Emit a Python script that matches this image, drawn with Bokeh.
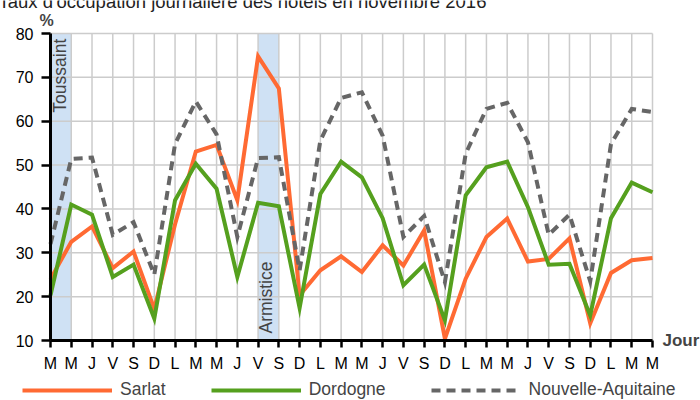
import math
from bokeh.plotting import figure
from bokeh.models import Range1d, FixedTicker, Label, Legend, LegendItem
from bokeh.embed import file_html
from bokeh.resources import INLINE

# ---- data ----
day_labels = ["M", "M", "J", "V", "S", "D", "L", "M", "M", "J", "V", "S", "D", "L", "M",
              "M", "J", "V", "S", "D", "L", "M", "M", "J", "V", "S", "D", "L", "M", "M"]
sarlat = [24, 32.5, 36, 26.5, 30.3, 17.2, 36.5, 53.1, 54.6, 42, 74.8, 67.5, 20.3, 26, 29.2,
          25.6, 31.7, 27.1, 35.1, 10.4, 24.1, 33.6, 37.8, 28, 28.6, 33.3, 13.9, 25.4, 28.3, 28.8]
dordogne = [20.3, 41, 38.7, 24.5, 27.3, 15, 42, 50.3, 44.6, 24.5, 41.4, 40.6, 17.4, 43.4, 50.8,
            47.2, 37.9, 22.6, 27.3, 14.6, 43.1, 49.5, 50.8, 40.4, 27.3, 27.5, 15.7, 37.9, 46, 43.8]
nouvelle_aquitaine = [32, 51.4, 51.7, 34.1, 37, 25, 54.8, 64.5, 57, 33.6, 51.6, 51.8, 26, 55.6, 65.3,
                      66.6, 56.7, 33.6, 38.4, 23.3, 52.6, 62.8, 64.2, 55.2, 34.1, 38.7, 23.5, 54.8, 62.8, 62.1]
y_ticks = [10, 20, 30, 40, 50, 60, 70, 80]
holiday_names = ["Toussaint", "Armistice"]
holiday_start = [0, 10]
holiday_end = [1, 11]

title_text = "Taux d'occupation journalière des hôtels en novembre 2016"

FONT = "Liberation Sans"
ORANGE = "#ff6a33"
GREEN = "#55a01e"
GRAY = "#666666"
BAND = "#cfe1f4"
GRID = "#cccccc"

days = list(range(len(day_labels)))
x_min, x_max = days[0], days[-1]
y_min, y_max = y_ticks[0], y_ticks[-1]

# layout in pixels (the frame covers the whole canvas; axes sit at fixed places)
W, H = 700, 400
LEFT, RIGHT, TOP, BOTTOM = 50, 652, 33, 340
px_x = (RIGHT - LEFT) / (x_max - x_min)
px_y = (BOTTOM - TOP) / (y_max - y_min)
xr = Range1d(x_min - LEFT / px_x, x_max + (W - RIGHT) / px_x)
yr = Range1d(y_min - (H - BOTTOM) / px_y, y_max + TOP / px_y)

p = figure(width=W, height=H, x_range=xr, y_range=yr,
           output_backend="svg", toolbar_location=None,
           min_border_left=0, min_border_right=0, min_border_top=0, min_border_bottom=0)
p.outline_line_color = None
p.background_fill_color = "white"
p.border_fill_color = "white"
p.xgrid.visible = False
p.ygrid.visible = False

# holiday bands
p.quad(left=holiday_start, right=holiday_end, bottom=y_min, top=y_max,
       fill_color=BAND, line_color=None)

# grid lines (limited to the plot area)
p.segment(x0=days, y0=[y_min] * len(days), x1=days, y1=[y_max] * len(days),
          line_color=GRID, line_width=1.5)
p.segment(x0=[x_min] * len(y_ticks), y0=y_ticks, x1=[x_max] * len(y_ticks), y1=y_ticks,
          line_color=GRID, line_width=1.5)

# lines
r_s = p.line(days, sarlat, line_color=ORANGE, line_width=4, line_join="miter")
r_d = p.line(days, dordogne, line_color=GREEN, line_width=4, line_join="miter")
r_n = p.line(days, nouvelle_aquitaine, line_color=GRAY, line_width=4, line_dash="9 6",
             line_join="miter")

# axes
xa = p.xaxis[0]
ya = p.yaxis[0]
xa.fixed_location = y_min
ya.fixed_location = x_min
xa.bounds = (x_min, x_max)
ya.bounds = (y_min, y_max)
xa.ticker = FixedTicker(ticks=days)
xa.major_label_overrides = {i: lab for i, lab in zip(days, day_labels)}
ya.ticker = FixedTicker(ticks=y_ticks)
for ax in (xa, ya):
    ax.axis_line_color = "black"
    ax.axis_line_width = 3
    ax.major_tick_line_color = "black"
    ax.major_tick_line_width = 2.5
    ax.major_tick_in = 0
    ax.minor_tick_line_color = None
    ax.major_label_text_font = FONT
    ax.major_label_text_font_size = "16px"
    ax.major_label_text_color = "black"
xa.major_tick_out = 7
xa.major_label_standoff = 7
ya.major_tick_out = 9
ya.major_label_standoff = 8

# texts
p.add_layout(Label(x=xr.start - 2 / px_x, y=yr.end - 1 / px_y, text=title_text,
                   text_font=FONT, text_font_size="18.5px", text_color="#222222",
                   text_align="left", text_baseline="alphabetic"))
p.add_layout(Label(x=-0.19, y=82.9, text="%", text_font=FONT, text_font_size="16px",
                   text_font_style="bold", text_align="center", text_baseline="alphabetic"))
p.add_layout(Label(x=29.48, y=y_min, text="Jour", text_font=FONT, text_font_size="17px",
                   text_font_style="bold", text_align="left", text_baseline="middle"))
p.add_layout(Label(x=0.48, y=78.8, text=holiday_names[0], angle=math.pi / 2,
                   text_font=FONT, text_font_size="17.5px", text_align="right",
                   text_baseline="alphabetic"))
p.add_layout(Label(x=10.40, y=11.6, text=holiday_names[1], angle=math.pi / 2,
                   text_font=FONT, text_font_size="17.5px", text_align="left",
                   text_baseline="alphabetic"))

legend = Legend(items=[LegendItem(label="Sarlat", renderers=[r_s]),
                       LegendItem(label="Dordogne", renderers=[r_d]),
                       LegendItem(label="Nouvelle-Aquitaine", renderers=[r_n])],
                orientation="horizontal", location=(22, 0),
                glyph_width=90, glyph_height=16, label_height=16, label_standoff=8,
                spacing=45, padding=0, margin=0, border_line_color=None,
                background_fill_alpha=0, label_text_font=FONT, label_text_font_size="17.5px")
p.add_layout(legend)

open("out.html", "w").write(file_html(p, INLINE))
